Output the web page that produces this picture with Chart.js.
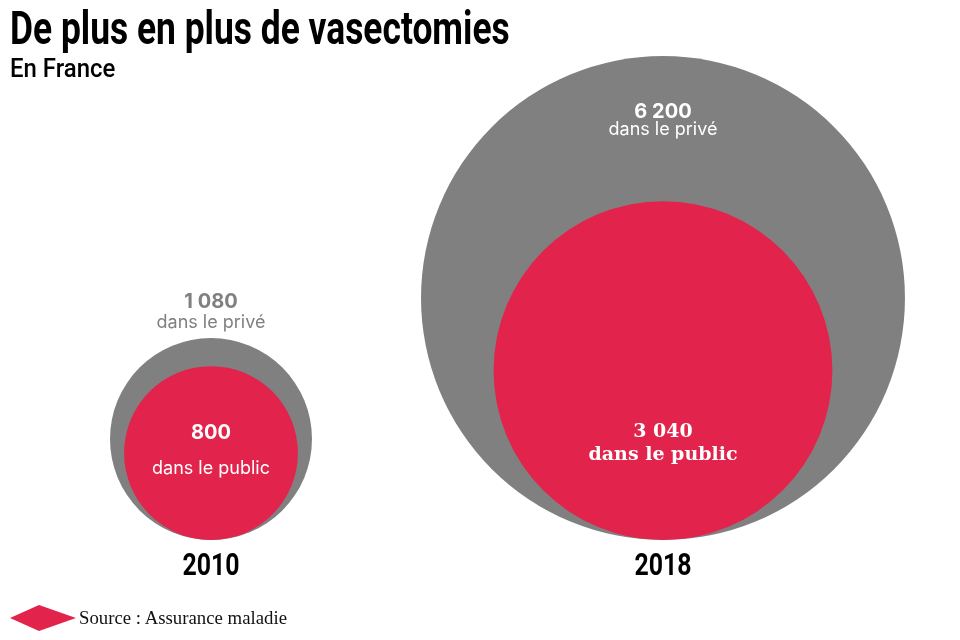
<!DOCTYPE html>
<html>
<head>
<meta charset="utf-8">
<script src="https://cdn.jsdelivr.net/npm/chart.js@4.4.1/dist/chart.umd.min.js"></script>
<style>
  html, body { margin: 0; padding: 0; background: #fff; }
  #wrap { position: relative; width: 960px; height: 640px; overflow: hidden; }
  canvas { position: absolute; left: -250px; top: -250px; }
  .lbl { position: absolute; white-space: nowrap; line-height: 1; transform-origin: center center; }
  .cond { font-family: Roboto, "Liberation Sans", sans-serif; }
  .title { position: absolute; left: 10px; white-space: nowrap; transform-origin: left top; color: #000; }
</style>
</head>
<body>
<div id="wrap">
  <canvas id="c" width="1460" height="1040"></canvas>
  <div id="title" class="title cond" style="top:5px;font-size:46px;font-weight:700;line-height:46px;">De plus en plus de vasectomies</div>
  <div id="sub" class="title cond" style="top:55px;font-size:26px;font-weight:500;line-height:26px;">En France</div>
  <svg style="position:absolute;left:10px;top:605px" width="66" height="26" viewBox="0 0 66 26">
    <polygon points="0,13 29,0 66,13 29,26" fill="#e2234b"/>
  </svg>
  <div id="src" class="title" style="left:79px;top:608px;font-family:'Liberation Serif',serif;font-size:18.5px;line-height:20px;color:#111;">Source : Assurance maladie</div>
</div>
<script>
// ---- Data ----
const categories = ['2010', '2018'];
const privateValues = [1080, 6200];
const publicValues = [800, 3040];
const privateLabels = ['1 080', '6 200'];
const publicLabels = ['800', '3 040'];
const privateText = 'dans le privé';
const publicText = 'dans le public';

// ---- Styles ----
const GRAY = '#808080';
const RED = '#e2234b';
const K = 3.073; // px radius per sqrt(unit), area-proportional
const OFF = 250;  // canvas offset (padding >= max bubble radius)

function rad(v) { return K * Math.sqrt(v); }
function bubbles(vals) {
  return vals.map((v, i) => ({ x: i, y: rad(v), r: rad(v), v: v }));
}

const chart = new Chart(document.getElementById('c'), {
  type: 'bubble',
  data: {
    datasets: [
      { label: 'privé', data: bubbles(privateValues), backgroundColor: GRAY, borderWidth: 0, hoverRadius: 0, order: 2, clip: false },
      { label: 'public', data: bubbles(publicValues), backgroundColor: RED, borderWidth: 0, hoverRadius: 0, order: 1, clip: false }
    ]
  },
  options: {
    responsive: false,
    animation: false,
    events: [],
    layout: { padding: { top: OFF, left: OFF, right: OFF, bottom: OFF } },
    plugins: { legend: { display: false }, tooltip: { enabled: false }, title: { display: false } },
    scales: {
      x: { type: 'linear', min: -0.4668, max: 1.6571, display: false },
      y: { type: 'linear', min: 0, max: 540, display: false }
    }
  }
});

// ---- Text overlays positioned from the chart's own elements ----
const wrap = document.getElementById('wrap');
function addLabel(text, x, y, css, fitW) {
  const d = document.createElement('div');
  d.className = 'lbl';
  d.textContent = text;
  Object.assign(d.style, css);
  d.style.left = x + 'px';
  d.style.top = y + 'px';
  wrap.appendChild(d);
  let sx = 1;
  if (fitW) sx = fitW / d.offsetWidth;
  d.style.transform = 'translate(-50%,-50%) scaleX(' + sx + ')';
  return d;
}
const gMeta = chart.getDatasetMeta(0).data;
const rMeta = chart.getDatasetMeta(1).data;
const sansB = { fontFamily: 'Inter, "Liberation Sans", sans-serif', fontWeight: '700', fontSize: '20px' };
const sansR = { fontFamily: 'Inter, "Liberation Sans", sans-serif', fontWeight: '400', fontSize: '18px' };
const serifB = { fontFamily: '"DejaVu Serif", serif', fontWeight: '700', fontSize: '19px', color: '#fff' };

categories.forEach((cat, i) => {
  const g = gMeta[i], r = rMeta[i];
  const gx = g.x - OFF, gy = g.y - OFF, rx = r.x - OFF, ry = r.y - OFF;
  const gTop = gy - g.options.radius;
  const baseY = gy + g.options.radius;
  if (i === 0) {
    addLabel(privateLabels[i], gx, gTop - 37, Object.assign({ color: GRAY }, sansB));
    addLabel(privateText, gx, gTop - 16, Object.assign({ color: GRAY }, sansR));
    addLabel(publicLabels[i], rx, ry - 21, Object.assign({ color: '#fff' }, sansB));
    addLabel(publicText, rx, ry + 15, Object.assign({ color: '#fff' }, sansR));
  } else {
    addLabel(privateLabels[i], gx, gTop + 55, Object.assign({ color: '#fff' }, sansB));
    addLabel(privateText, gx, gTop + 73, Object.assign({ color: '#fff' }, sansR));
    addLabel(publicLabels[i], rx, ry + 59, serifB);
    addLabel(publicText, rx, ry + 82, serifB);
  }
  addLabel(cat, gx, baseY + 24, { fontFamily: 'Roboto, "Liberation Sans", sans-serif', fontWeight: '700', fontSize: '31px', color: '#000' }, 57);
});

// condensed title / subtitle
function fitLeft(id, w) {
  const el = document.getElementById(id);
  el.style.transform = 'scaleX(' + (w / el.offsetWidth) + ')';
}
fitLeft('title', 500);
fitLeft('sub', 105);
fitLeft('src', 208);
</script>
</body>
</html>
